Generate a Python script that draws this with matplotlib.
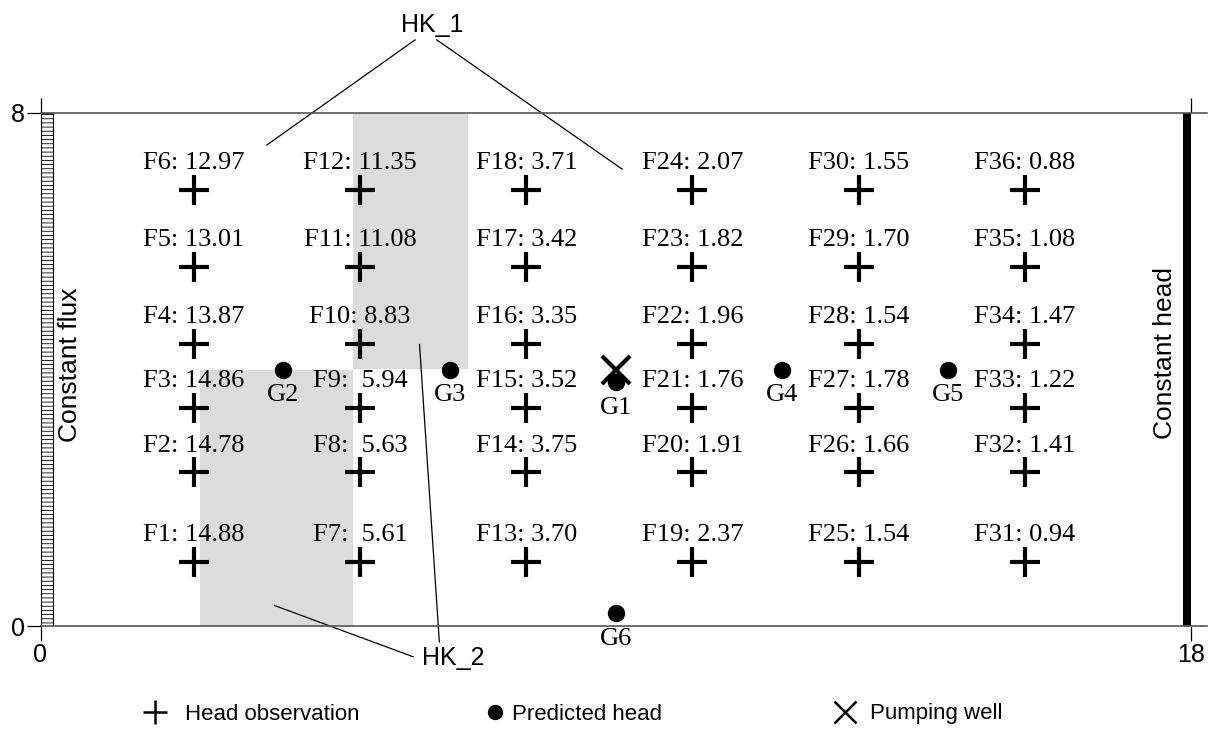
import matplotlib
matplotlib.use("Agg")
import matplotlib.pyplot as plt
from matplotlib.patches import Rectangle
from matplotlib.legend_handler import HandlerLine2D

# ---------------- data ----------------
col_x = [2.4, 5.0, 7.6, 10.2, 12.8, 15.4]
row_y = [1.0, 2.4, 3.4, 4.4, 5.6, 6.8]
# observed heads, one list per column (bottom -> top)
heads_c1 = [14.88, 14.78, 14.86, 13.87, 13.01, 12.97]
heads_c2 = [5.61, 5.63, 5.94, 8.83, 11.08, 11.35]
heads_c3 = [3.70, 3.75, 3.52, 3.35, 3.42, 3.71]
heads_c4 = [2.37, 1.91, 1.76, 1.96, 1.82, 2.07]
heads_c5 = [1.54, 1.66, 1.78, 1.54, 1.70, 1.55]
heads_c6 = [0.94, 1.41, 1.22, 1.47, 1.08, 0.88]
heads = [heads_c1, heads_c2, heads_c3, heads_c4, heads_c5, heads_c6]
double_space = [7, 8, 9]

g_names = ["G1", "G2", "G3", "G4", "G5", "G6"]
g_x = [9.0, 3.8, 6.4, 11.6, 14.2, 9.0]
g_y = [3.8, 4.0, 4.0, 4.0, 4.0, 0.2]

well_x = [9.0]
well_y = [4.0]

hk1_box = (4.89, 4.0, 6.69, 8.0)   # x0, y0, x1, y1
hk2_box = (2.50, 0.0, 4.89, 4.0)

x_ticks = [0, 18]
y_ticks = [0, 8]

SERIF = "Liberation Serif"
SANS = "Liberation Sans"

plt.rcParams["hatch.linewidth"] = 0.6

W, H = 1210, 732
fig = plt.figure(figsize=(W / 100, H / 100), dpi=100)
ax = fig.add_axes([40.5 / W, 1 - 626 / H, (1207 - 40.5) / W, (626 - 113) / H])
ax.set_xlim(0, 18.25)
ax.set_ylim(0, 8)

# shaded zones
for (x0, y0, x1, y1) in [hk1_box, hk2_box]:
    ax.add_patch(Rectangle((x0, y0), x1 - x0, y1 - y0, facecolor="#dcdcdc",
                           edgecolor="none", zorder=0))

# constant flux strip
ax.add_patch(Rectangle((0, 0), 0.19, 8, facecolor="white", edgecolor="black",
                       hatch="----", lw=0.8, zorder=2))
# constant head bar
ax.add_patch(Rectangle((17.88, 0), 0.12, 8, facecolor="black", edgecolor="none",
                       zorder=2))

# observations
px, py, labels = [], [], []
for ci, cx in enumerate(col_x):
    for ri, ry in enumerate(row_y):
        n = ci * 6 + ri + 1
        sep = ":  " if n in double_space else ": "
        px.append(cx)
        py.append(ry)
        labels.append(f"F{n}{sep}{heads[ci][ri]:.2f}")
obs, = ax.plot(px, py, linestyle="none", marker="+", markersize=21.5,
               mew=3.0, color="black", zorder=4, label="Head observation")
for x, y, t in zip(px, py, labels):
    ax.text(x, y + 0.32, t, ha="center", va="baseline", fontsize=19,
            family=SERIF, zorder=5)

# predicted heads
pred, = ax.plot(g_x, g_y, linestyle="none", marker="o", markersize=11.5,
                color="black", zorder=4, label="Predicted head")
for x, y, t in zip(g_x, g_y, g_names):
    ax.text(x, y - 0.49, t, ha="center", va="baseline", fontsize=19,
            family=SERIF, zorder=5)

# pumping well
well, = ax.plot(well_x, well_y, linestyle="none", marker="x", markersize=20,
                mew=3.0, color="black", zorder=5, label="Pumping well")

# HK annotations
ax.text(6.13, 9.38, "HK_1", ha="center", va="center", fontsize=18,
        family=SANS, clip_on=False)
ax.plot([5.86, 3.54], [9.14, 7.5], color="black", lw=0.9, clip_on=False)
ax.plot([6.2, 9.1], [9.14, 7.125], color="black", lw=0.9, clip_on=False)
ax.text(6.46, -0.5, "HK_2", ha="center", va="center", fontsize=18,
        family=SANS, clip_on=False)
ax.plot([5.83, 3.66], [-0.48, 0.32], color="black", lw=0.9, clip_on=False)
ax.plot([6.24, 5.93], [-0.25, 4.39], color="black", lw=0.9, clip_on=False)

# boundary labels
ax.text(0.46, 4.08, "Constant flux", rotation=90, ha="center", va="center",
        fontsize=19, family=SANS)
ax.text(17.6, 4.25, "Constant head", rotation=90, ha="center", va="center",
        fontsize=19, family=SANS)

# axes styling
for s in ["left", "right"]:
    ax.spines[s].set_visible(False)
for s in ["top", "bottom"]:
    ax.spines[s].set_color("#555555")
    ax.spines[s].set_linewidth(1.2)
ax.set_xticks(x_ticks)
ax.set_yticks(y_ticks)
ax.set_xticklabels([str(v) for v in x_ticks], fontsize=18, family=SANS)
ax.set_yticklabels([str(v) for v in y_ticks], fontsize=18, family=SANS)
ax.tick_params(axis="x", top=True, bottom=True, direction="out", length=11,
               width=0.9, pad=1)
ax.tick_params(axis="y", left=True, direction="out", length=10, width=0.9,
               pad=1)


def thin_marker(legline, orig):
    legline.update_from(orig)
    legline.set_markeredgewidth(1.8)


# legend: three separate entries
leg_specs = [(obs, 141.7, 0.75), (pred, 481.7, 0.17), (well, 831.7, 0.53)]
for h, xpx, tp in leg_specs:
    fig.legend(handles=[h], loc="center left",
               bbox_to_anchor=(xpx / W, 1 - 714 / H), frameon=False,
               prop={"family": SANS, "size": 16}, handlelength=1.2,
               handletextpad=tp, borderpad=0, borderaxespad=0,
               markerscale=0.8,
               handler_map={h: HandlerLine2D(update_func=thin_marker)})

fig.savefig("out.png", dpi=100)
